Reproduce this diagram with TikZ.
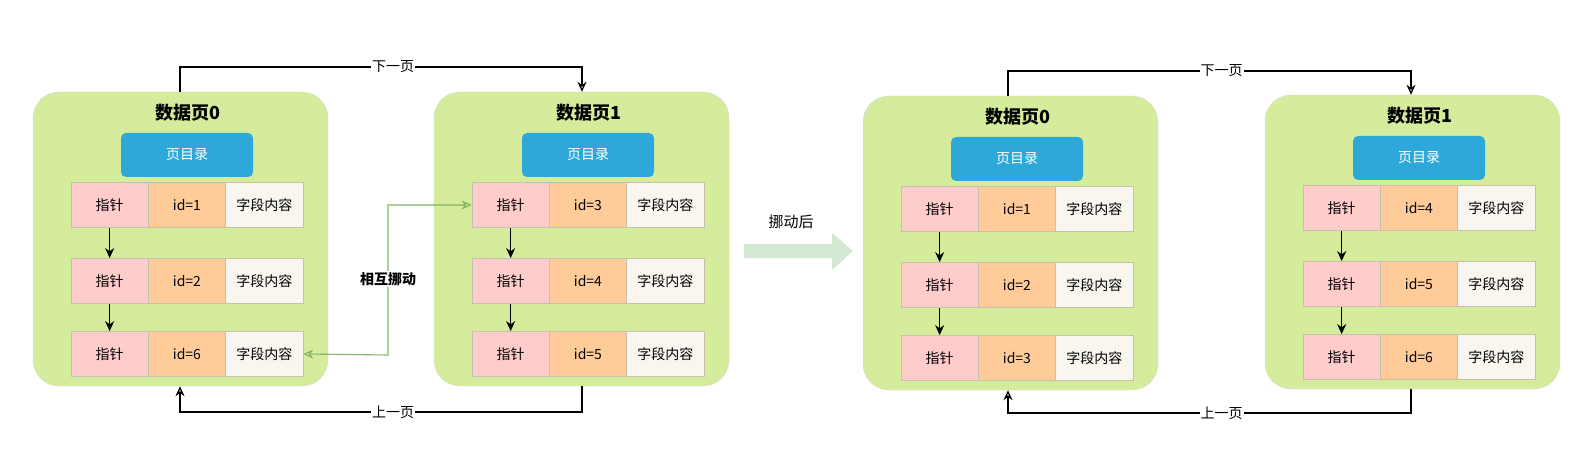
\documentclass[tikz,border=0pt]{standalone}
\usepackage{fontspec}
\setmainfont{Noto Sans CJK SC}
\usetikzlibrary{arrows.meta,calc}
\definecolor{pagegreen}{HTML}{D4EC9B}
\definecolor{pageedge}{HTML}{D8DCD0}
\definecolor{dirblue}{HTML}{2EA8D8}
\definecolor{ptrpink}{HTML}{FFCCCC}
\definecolor{idorange}{HTML}{FFCC99}
\definecolor{txtcream}{HTML}{F8F6EE}
\definecolor{celledge}{HTML}{C8BFAE}
\definecolor{linkgreen}{HTML}{82B366}
\definecolor{bigarrow}{HTML}{D5E8D4}
\tikzset{
  pagebox/.style={draw=pageedge, fill=pagegreen, rounded corners=26pt, minimum width=295pt, minimum height=294pt, inner sep=0pt},
  pagetitle/.style={font=\fontsize{18}{21}\selectfont\bfseries},
  dirbox/.style={fill=dirblue, rounded corners=5pt, minimum width=132pt, minimum height=44pt, inner sep=0pt, text=white, font=\fontsize{14}{16}\selectfont},
  cellbase/.style={draw=celledge, line width=0.8pt, minimum width=77.3pt, minimum height=45pt, inner sep=0pt, font=\fontsize{14}{16}\selectfont},
  ptrcell/.style={cellbase, fill=ptrpink},
  idcell/.style={cellbase, fill=idorange},
  txtcell/.style={cellbase, fill=txtcream},
  ptrarrow/.style={-{Stealth[open,length=10pt,width=9pt]}, line width=1.6pt, black},
  linkline/.style={-{Stealth[open,length=10pt,width=9pt]}, line width=1.3pt, black},
  movelink/.style={{Stealth[open,length=10pt,width=9pt]}-{Stealth[open,length=10pt,width=9pt]}, line width=1.1pt, linkgreen},
  linklabel/.style={fill=white, inner sep=1pt, font=\fontsize{14}{16}\selectfont},
}
% #1 name, #2 left x, #3 top y, #4 title, #5 #6 #7 ids
\newcommand\dpage[7]{%
  \node[pagebox] (#1) at ({#2+147.5},{#3+147}) {};
  \node[pagetitle] (#1t) at ({#2+155},{#3+21}) {#4};
  \node[dirbox] (#1d) at ({#2+154},{#3+63}) {页目录};
  \foreach \r/\yy/\ii in {1/113/#5,2/189/#6,3/262/#7}{
    \node[ptrcell] (#1p\r) at ({#2+38+38.65},{#3+\yy}) {指针};
    \node[idcell] (#1i\r) at ({#2+38+115.95},{#3+\yy}) {id=\ii};
    \node[txtcell] (#1c\r) at ({#2+38+193.25},{#3+\yy}) {字段内容};
  }
  \draw[ptrarrow] (#1p1.south) -- (#1p2.north);
  \draw[ptrarrow] (#1p2.south) -- (#1p3.north);
}
\begin{document}
\begin{tikzpicture}[x=1pt,y=-1pt]
\useasboundingbox (0,0) rectangle (1583,468);
\dpage{A}{33}{92}{数据页0}{1}{2}{6}
\dpage{B}{434}{92}{数据页1}{3}{4}{5}
\dpage{C}{863}{96}{数据页0}{1}{2}{3}
\dpage{D}{1265}{95}{数据页1}{4}{5}{6}
% next/prev links, left pair
\coordinate (ntA) at (180,67);
\coordinate (ntB) at (582,67);
\draw[linkline] (A.north -| ntA) -- (ntA) -- node[linklabel, pos=0.53]{下一页} (ntB) -- (ntB |- B.north);
\coordinate (pvA) at (180,412);
\coordinate (pvB) at (582,412);
\draw[linkline] (B.south -| pvB) -- (pvB) -- node[linklabel, pos=0.47]{上一页} (pvA) -- (pvA |- A.south);
% next/prev links, right pair
\coordinate (ntC) at (1008,71);
\coordinate (ntD) at (1411,71);
\draw[linkline] (C.north -| ntC) -- (ntC) -- node[linklabel, pos=0.53]{下一页} (ntD) -- (ntD |- D.north);
\coordinate (pvC) at (1008,413);
\coordinate (pvD) at (1411,413);
\draw[linkline] (D.south -| pvD) -- (pvD) -- node[linklabel, pos=0.47]{上一页} (pvC) -- (pvC |- C.south);
% swap connector
\coordinate (sw) at (388,355);
\draw[movelink] (Ac3.east) -- (sw) |- (Bp1.west);
\node[linklabel, font=\fontsize{14}{16}\selectfont\bfseries] (swl) at (388,279) {相互挪动};
% big move arrow
\fill[bigarrow] (744,244) -- (832,244) -- (832,233) -- (853,251) -- (832,270) -- (832,258) -- (744,258) -- cycle;
\node[font=\fontsize{15}{17}\selectfont] (mvl) at (791,222) {挪动后};
\end{tikzpicture}
\end{document}
